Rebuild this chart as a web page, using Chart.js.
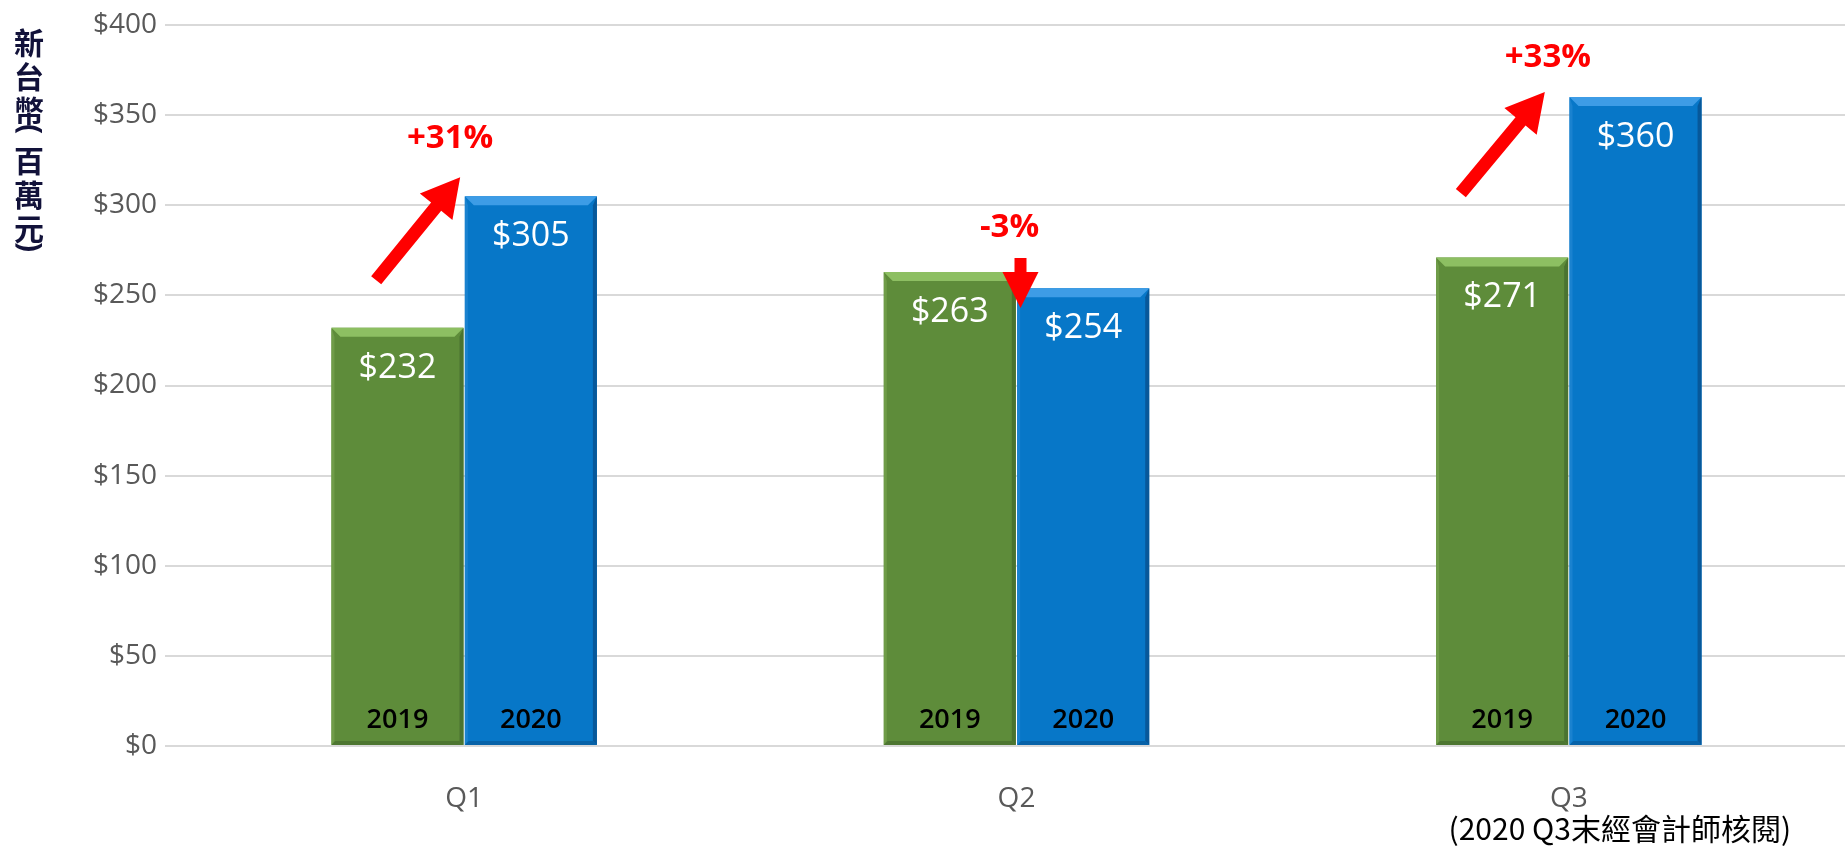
<!DOCTYPE html>
<html>
<head>
<meta charset="utf-8">
<script src="https://cdn.jsdelivr.net/npm/chart.js@4.4.1/dist/chart.umd.min.js"></script>
<style>
  html, body { margin: 0; padding: 0; background: #fff; }
  #chart { display: block; }
</style>
</head>
<body>
<canvas id="chart" width="1845" height="847"></canvas>
<script>
// data
const quarters = ['Q1', 'Q2', 'Q3'];
const series2019 = [232, 263, 271];
const series2020 = [305, 254, 360];
const seriesNames = ['2019', '2020'];
const yTicks = [0, 50, 100, 150, 200, 250, 300, 350, 400];
const changeLabels = ['+31%', '-3%', '+33%'];
const axisTitle = '新台幣(百萬元)';
const q3Note = '(2020 Q3末經會計師核閱)';

const fontNum = '"Open Sans", "Noto Sans", sans-serif';
const fontCJK = '"Noto Sans CJK TC", "Noto Sans", sans-serif';

// arrows: pixel offsets from category centre / top of taller bar
const arrowLayout = [
    { up: true, tail: [-88, 84], tip: [-4, -19], text: [-14, -58] },
    { up: false, tail: [4, -14], tip: [4, 36], text: [-7, -44] },
    { up: true, tail: [-108, 96], tip: [-24, -5], text: [-21, -40] }
];

function drawArrow(ctx, x1, y1, x2, y2, shaftW, headW, headL) {
    const dx = x2 - x1, dy = y2 - y1;
    const len = Math.sqrt(dx * dx + dy * dy);
    const ux = dx / len, uy = dy / len;
    const px = -uy, py = ux;
    const bx = x2 - ux * headL, by = y2 - uy * headL;
    ctx.beginPath();
    ctx.moveTo(x1 + px * shaftW / 2, y1 + py * shaftW / 2);
    ctx.lineTo(bx + px * shaftW / 2, by + py * shaftW / 2);
    ctx.lineTo(bx + px * headW / 2, by + py * headW / 2);
    ctx.lineTo(x2, y2);
    ctx.lineTo(bx - px * headW / 2, by - py * headW / 2);
    ctx.lineTo(bx - px * shaftW / 2, by - py * shaftW / 2);
    ctx.lineTo(x1 - px * shaftW / 2, y1 - py * shaftW / 2);
    ctx.closePath();
    ctx.fill();
}

function poly(ctx, pts, color) {
    ctx.beginPath();
    ctx.moveTo(pts[0][0], pts[0][1]);
    for (let i = 1; i < pts.length; i++) ctx.lineTo(pts[i][0], pts[i][1]);
    ctx.closePath();
    ctx.fillStyle = color;
    ctx.fill();
}

const bevelColors = [
    { top: '#8dbf62', right: '#4a7330', bottom: '#4d7631', left: '#6f9c48' },
    { top: '#3d9ce6', right: '#07589a', bottom: '#0762a8', left: '#1a82cf' }
];

// bevel look + labels on bars
const barDecor = {
    id: 'barDecor',
    afterDatasetsDraw(chart) {
        const ctx = chart.ctx;
        ctx.save();
        chart.data.datasets.forEach((ds, di) => {
            const meta = chart.getDatasetMeta(di);
            const c = bevelColors[di];
            meta.data.forEach((bar, i) => {
                const l = bar.x - bar.width / 2, r = bar.x + bar.width / 2;
                const t = bar.y, b = bar.base;
                const bv = 9;
                poly(ctx, [[l, t], [r, t], [r - bv, t + bv], [l + bv, t + bv]], c.top);
                poly(ctx, [[r, t], [r, b], [r - 4, b - 4], [r - 4, t + bv]], c.right);
                poly(ctx, [[l, b], [r, b], [r - 4, b - 4], [l + 4, b - 4]], c.bottom);
                poly(ctx, [[l, t], [l + 3, t + bv], [l + 3, b - 4], [l, b]], c.left);

                ctx.textAlign = 'center';
                ctx.textBaseline = 'middle';
                ctx.fillStyle = '#ffffff';
                ctx.font = '34px ' + fontNum;
                ctx.fillText('$' + ds.data[i], bar.x, t + 40);

                ctx.fillStyle = '#000000';
                ctx.font = '600 27px ' + fontNum;
                ctx.fillText(ds.label, bar.x, b - 25);
            });
        });
        ctx.restore();
    }
};

// growth arrows, axis title, Q3 note
const extras = {
    id: 'extras',
    afterDraw(chart) {
        const ctx = chart.ctx;
        const xs = chart.scales.x, ys = chart.scales.y;
        ctx.save();
        ctx.fillStyle = '#ff0000';
        quarters.forEach((q, i) => {
            const a = arrowLayout[i];
            const cx = xs.getPixelForValue(i);
            const top = ys.getPixelForValue(Math.max(series2019[i], series2020[i]));
            if (a.up) {
                drawArrow(ctx, cx + a.tail[0], top + a.tail[1], cx + a.tip[0], top + a.tip[1], 13, 42, 38);
            } else {
                drawArrow(ctx, cx + a.tail[0], top + a.tail[1], cx + a.tip[0], top + a.tip[1], 12, 36, 36);
            }
            ctx.font = 'bold 33px ' + fontNum;
            ctx.textAlign = 'center';
            ctx.textBaseline = 'middle';
            ctx.fillText(changeLabels[i], cx + a.text[0], top + a.text[1]);
        });

        // vertical axis title, parens turned like in vertical writing
        ctx.fillStyle = '#12123a';
        ctx.textAlign = 'center';
        ctx.textBaseline = 'middle';
        let y = 43;
        const tx = 29;
        for (const ch of axisTitle) {
            if (ch === '(' || ch === ')') {
                ctx.save();
                ctx.translate(tx, y - 16);
                ctx.rotate(Math.PI / 2);
                ctx.font = 'bold 30px ' + fontNum;
                ctx.fillText(ch, 0, 0);
                ctx.restore();
                y += 16;
            } else {
                ctx.font = 'bold 30px ' + fontCJK;
                ctx.fillText(ch, tx, y);
                y += 34;
            }
        }

        // Q3 note
        ctx.fillStyle = '#000000';
        ctx.font = '30px ' + fontCJK;
        ctx.fillText(q3Note, xs.getPixelForValue(2) + 51, 829);
        ctx.restore();
    }
};

new Chart(document.getElementById('chart'), {
    type: 'bar',
    data: {
        labels: quarters,
        datasets: [
            {
                label: seriesNames[0],
                data: series2019,
                backgroundColor: '#5e8c3a'
            },
            {
                label: seriesNames[1],
                data: series2020,
                backgroundColor: '#0777c8'
            }
        ]
    },
    options: {
        responsive: false,
        animation: false,
        layout: { padding: { top: 25, right: 0, left: 0, bottom: 0 } },
        datasets: {
            bar: { categoryPercentage: 0.483, barPercentage: 0.99 }
        },
        scales: {
            x: {
                grid: { display: false },
                border: { display: false },
                ticks: {
                    color: '#595959',
                    font: { family: fontNum, size: 28 },
                    padding: 28
                },
                afterFit: s => { s.height = 101; }
            },
            y: {
                min: 0,
                max: 400,
                afterBuildTicks: s => { s.ticks = yTicks.map(v => ({ value: v })); },
                grid: { color: '#d9d9d9', lineWidth: 2, drawTicks: true, tickLength: 23 },
                border: { display: false },
                ticks: {
                    color: '#595959',
                    font: { family: fontNum, size: 28 },
                    padding: 8,
                    callback: v => '$' + v
                },
                afterFit: s => { s.width = 188; }
            }
        },
        plugins: {
            legend: { display: false },
            tooltip: { enabled: false }
        }
    },
    plugins: [barDecor, extras]
});
</script>
</body>
</html>
